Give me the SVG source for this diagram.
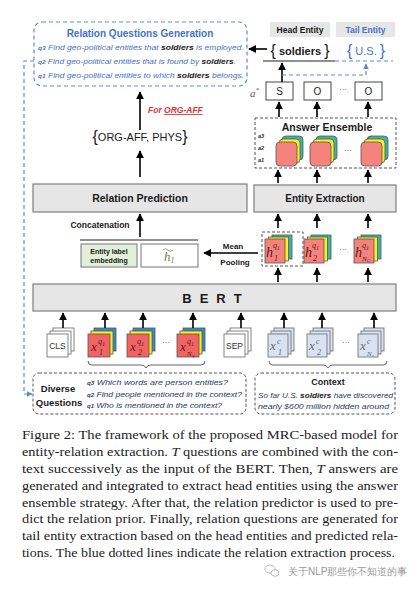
<svg xmlns="http://www.w3.org/2000/svg" width="419" height="589" viewBox="0 0 419 589">
<defs>
<style>
text{font-family:"Liberation Sans",Arial,sans-serif;}
.b{font-weight:bold;}
.lbl{font-weight:bold;fill:#1a1a1a;}
.blue{fill:#4472c4;}
.it{font-style:italic;}
.box{fill:#e6e6e6;stroke:#7f7f7f;stroke-width:1.2;}
.arr{stroke:#000;stroke-width:1.6;fill:none;marker-end:url(#ah);}
.bdash{stroke:#5b8bd6;stroke-width:1.2;fill:none;stroke-dasharray:4 3;}
.gdash{stroke:#555;stroke-width:1;fill:none;stroke-dasharray:3 2;}
.cap{font-family:"Liberation Serif","Times New Roman",serif;font-size:12.8px;fill:#222;}
.pink{fill:#f4837d;stroke:#555;stroke-width:0.8;}
.red{fill:#f26464;stroke:#555;stroke-width:0.8;}
.yel{fill:#ffef1a;stroke:#555;stroke-width:0.8;}
.teal{fill:#35b6ad;stroke:#555;stroke-width:0.8;}
.bl{fill:#2f8ccc;stroke:#555;stroke-width:0.8;}
.wh{fill:#fff;stroke:#777;stroke-width:0.9;}
.lb{fill:#d9e2f3;stroke:#777;stroke-width:0.9;}
.var{font-family:"Liberation Serif","Times New Roman",serif;font-style:italic;}
.vr{fill:#5a1a1a;}
.vg{fill:#666;}
</style>
<marker id="ah" viewBox="0 0 10 10" refX="9" refY="5" markerWidth="5" markerHeight="5" orient="auto"><path d="M0,0 L10,5 L0,10 z" fill="#000"/></marker>
<marker id="bh" viewBox="0 0 10 10" refX="9" refY="5" markerWidth="5" markerHeight="5" orient="auto"><path d="M0,0 L10,5 L0,10 z" fill="#5b8bd6"/></marker>
</defs>
<rect width="419" height="589" fill="#fff"/>

<!-- Relation Questions Generation -->
<g id="relq">
<rect x="34" y="22" width="213" height="64" rx="8" class="bdash"/>
<text x="140" y="37" text-anchor="middle" class="b blue" font-size="10">Relation Questions Generation</text>
<text x="38" y="50" font-size="7.8" class="blue it" textLength="206" lengthAdjust="spacingAndGlyphs"><tspan class="b" font-size="6">q3</tspan> Find geo-political entities that <tspan class="b" fill="#1a1a1a">soldiers</tspan> is employed.</text>
<text x="38" y="64" font-size="7.8" class="blue it" textLength="198" lengthAdjust="spacingAndGlyphs"><tspan class="b" font-size="6">q2</tspan> Find geo-political entities that is found by <tspan class="b" fill="#1a1a1a">soldiers</tspan>.</text>
<text x="38" y="78" font-size="7.8" class="blue it" textLength="206" lengthAdjust="spacingAndGlyphs"><tspan class="b" font-size="6">q1</tspan> Find geo-political entities to which <tspan class="b" fill="#1a1a1a">soldiers</tspan> belongs.</text>
</g>

<!-- relation prior -->
<g id="forlabel">
<text x="148" y="113" font-size="8.5" class="b it" fill="#e03030">For <tspan text-decoration="underline">ORG-AFF</tspan></text>
</g>
<g id="relset">
<text x="140" y="142" text-anchor="middle" fill="#1a1a1a"><tspan font-size="16">{</tspan><tspan font-size="11" dy="-1">ORG-AFF, PHYS</tspan><tspan font-size="16" dy="1">}</tspan></text>
</g>

<g id="relpred">
<rect x="33" y="184" width="214" height="28" class="box"/>
<text x="140" y="202" text-anchor="middle" class="lbl" font-size="10.5">Relation Prediction</text>
</g>
<g id="entext">
<rect x="254" y="185" width="142" height="27" class="box"/>
<text x="325" y="202" text-anchor="middle" class="lbl" font-size="10">Entity Extraction</text>
</g>

<!-- Entity labels -->
<g id="headent">
<rect x="270" y="22" width="60" height="15" fill="#e6e6e6"/>
<text x="300" y="33" text-anchor="middle" class="lbl" font-size="8.5">Head Entity</text>
</g>
<g id="tailent">
<rect x="336" y="22" width="59" height="15" fill="#e6e6e6"/>
<text x="365.5" y="33" text-anchor="middle" class="b blue" font-size="8.5">Tail Entity</text>
</g>
<g id="soldiers">
<text x="300" y="56" text-anchor="middle" fill="#1a1a1a"><tspan font-size="16">{</tspan><tspan font-size="11" class="b" dy="-1"> soldiers </tspan><tspan font-size="16" dy="1">}</tspan></text>
</g>
<g id="us">
<text x="366" y="56" text-anchor="middle" class="blue"><tspan font-size="16">{</tspan><tspan font-size="11" dy="-1"> U.S. </tspan><tspan font-size="16" dy="1">}</tspan></text>
</g>

<!-- S O O -->
<g id="astar"><text x="250" y="97" class="var" font-size="11" fill="#555">a<tspan font-size="7" dy="-5">*</tspan></text></g>
<g id="tagS"><rect x="266" y="82" width="27" height="18" fill="#fff" stroke="#444" stroke-width="1"/><text x="279.5" y="95" text-anchor="middle" font-size="10" fill="#222">S</text></g>
<g id="tagO1"><rect x="304" y="82" width="27" height="18" fill="#fff" stroke="#444" stroke-width="1"/><text x="317.5" y="95" text-anchor="middle" font-size="10" fill="#222">O</text></g>
<text x="343" y="92" text-anchor="middle" font-size="8" fill="#333">···</text>
<g id="tagO2"><rect x="355" y="82" width="27" height="18" fill="#fff" stroke="#444" stroke-width="1"/><text x="368.5" y="95" text-anchor="middle" font-size="10" fill="#222">O</text></g>

<!-- Answer Ensemble -->
<g id="ensemble">
<rect x="255" y="118" width="141" height="50" class="gdash"/>
<text x="327" y="131" text-anchor="middle" class="lbl" font-size="10.5">Answer Ensemble</text>
<text x="258" y="138" class="b it" font-size="5.5" fill="#222">a3</text>
<text x="258" y="150" class="b it" font-size="5.5" fill="#222">a2</text>
<text x="258" y="162" class="b it" font-size="5.5" fill="#222">a1</text>
<rect x="282" y="136" width="21" height="24" rx="4" class="teal"/><rect x="279" y="139" width="21" height="24" rx="4" class="yel"/><rect x="276" y="142" width="21" height="24" rx="4" class="pink"/>
<rect x="316" y="136" width="21" height="24" rx="4" class="teal"/><rect x="313" y="139" width="21" height="24" rx="4" class="yel"/><rect x="310" y="142" width="21" height="24" rx="4" class="pink"/>
<text x="348" y="153" text-anchor="middle" font-size="8" fill="#333">···</text>
<rect x="367" y="136" width="21" height="24" rx="4" class="teal"/><rect x="364" y="139" width="21" height="24" rx="4" class="yel"/><rect x="361" y="142" width="21" height="24" rx="4" class="pink"/>
</g>

<!-- concatenation -->
<g id="concatlabel"><text x="100" y="228" text-anchor="middle" class="lbl" font-size="8.5">Concatenation</text></g>
<g id="elabel">
<rect x="81" y="244" width="56" height="23" fill="#e2efd9" stroke="#777" stroke-width="1"/>
<text x="109" y="254" text-anchor="middle" class="lbl" font-size="7">Entity label</text>
<text x="109" y="263" text-anchor="middle" class="lbl" font-size="7">embedding</text>
</g>
<g id="hbar">
<rect x="141" y="244" width="57" height="23" fill="#fff" stroke="#777" stroke-width="1"/>
<text x="164" y="261" class="var" font-size="13" fill="#7a7a50">h<tspan font-size="8" dy="2">1</tspan></text>
<path d="M163,250 q2.5,-2.5 5,0 q2.5,2.5 5,0" stroke="#7a7a50" stroke-width="0.7" fill="none"/>
</g>
<g id="meanpool">
<text x="233" y="249" text-anchor="middle" class="lbl" font-size="8">Mean</text>
<text x="235" y="265" text-anchor="middle" class="lbl" font-size="8">Pooling</text>
</g>

<!-- h cubes -->
<g id="hcubes">
<rect x="262" y="232" width="41" height="34" class="gdash" stroke="#888"/>
<rect x="272" y="235" width="20" height="24" class="teal"/><rect x="268.5" y="237" width="20" height="24" class="yel"/><rect x="265" y="239" width="20" height="24" class="pink"/>
<text x="266" y="257" class="var vr" font-size="14">h</text><text x="273" y="248" class="var vr" font-size="8">q<tspan font-size="6" dy="1.5">1</tspan></text><text x="274" y="261" class="var vr" font-size="8">1</text>
<rect x="311" y="235" width="20" height="24" class="teal"/><rect x="307.5" y="237" width="20" height="24" class="yel"/><rect x="304" y="239" width="20" height="24" class="pink"/>
<text x="305" y="257" class="var vr" font-size="14">h</text><text x="312" y="248" class="var vr" font-size="8">q<tspan font-size="6" dy="1.5">1</tspan></text><text x="313" y="261" class="var vr" font-size="8">2</text>
<text x="343" y="252" text-anchor="middle" font-size="8" fill="#333">···</text>
<rect x="361" y="235" width="20" height="24" class="teal"/><rect x="357.5" y="237" width="20" height="24" class="yel"/><rect x="354" y="239" width="20" height="24" class="pink"/>
<text x="355" y="257" class="var vr" font-size="14">h</text><text x="362" y="248" class="var vr" font-size="8">q<tspan font-size="6" dy="1.5">1</tspan></text><text x="362" y="261" class="var vr" font-size="7">N<tspan font-size="5" dy="1">C</tspan></text>
</g>

<!-- BERT -->
<g id="bert">
<rect x="33" y="284" width="363" height="27" class="box"/>
<text x="216" y="303" text-anchor="middle" class="lbl" font-size="13" letter-spacing="8">BERT</text>
</g>

<!-- tokens -->
<g id="cls">
<rect x="53" y="328" width="21" height="23" class="wh"/><rect x="50" y="331" width="21" height="23" class="wh"/><rect x="47" y="334" width="21" height="23" class="wh"/>
<text x="57.5" y="349" text-anchor="middle" font-size="8.5" fill="#333">CLS</text>
</g>
<g id="xq1">
<rect x="94" y="328" width="22" height="23" class="bl"/><rect x="91" y="331" width="22" height="23" class="yel"/><rect x="88" y="334" width="22" height="23" class="red"/>
<text x="91" y="351" class="var vr" font-size="13">x</text><text x="98" y="344" class="var vr" font-size="8">q<tspan font-size="6" dy="1.5">1</tspan></text><text x="99" y="355" class="var vr" font-size="8">1</text>
</g>
<g id="xq2">
<rect x="133" y="328" width="22" height="23" class="bl"/><rect x="130" y="331" width="22" height="23" class="yel"/><rect x="127" y="334" width="22" height="23" class="red"/>
<text x="130" y="351" class="var vr" font-size="13">x</text><text x="137" y="344" class="var vr" font-size="8">q<tspan font-size="6" dy="1.5">1</tspan></text><text x="138" y="355" class="var vr" font-size="8">2</text>
</g>
<text x="166" y="345" text-anchor="middle" font-size="8" fill="#333">···</text>
<g id="xqn">
<rect x="183" y="328" width="22" height="23" class="bl"/><rect x="180" y="331" width="22" height="23" class="yel"/><rect x="177" y="334" width="22" height="23" class="red"/>
<text x="180" y="351" class="var vr" font-size="13">x</text><text x="187" y="344" class="var vr" font-size="8">q<tspan font-size="6" dy="1.5">1</tspan></text><text x="187" y="356" class="var vr" font-size="7">N<tspan font-size="5" dy="1">q</tspan></text>
</g>
<g id="sep">
<rect x="230" y="328" width="21" height="23" class="wh"/><rect x="227" y="331" width="21" height="23" class="wh"/><rect x="224" y="334" width="21" height="23" class="wh"/>
<text x="234.5" y="349" text-anchor="middle" font-size="8.5" fill="#333">SEP</text>
</g>
<g id="xc1">
<rect x="274" y="328" width="20" height="23" class="lb"/><rect x="271" y="331" width="20" height="23" class="lb"/><rect x="268" y="334" width="20" height="23" class="lb"/>
<text x="270" y="350" class="var vg" font-size="13">x</text><text x="277" y="344" class="var vg" font-size="8">c</text><text x="278" y="355" class="var vg" font-size="8">1</text>
</g>
<g id="xc2">
<rect x="313" y="328" width="20" height="23" class="lb"/><rect x="310" y="331" width="20" height="23" class="lb"/><rect x="307" y="334" width="20" height="23" class="lb"/>
<text x="309" y="350" class="var vg" font-size="13">x</text><text x="316" y="344" class="var vg" font-size="8">c</text><text x="317" y="355" class="var vg" font-size="8">2</text>
</g>
<text x="346" y="345" text-anchor="middle" font-size="8" fill="#333">···</text>
<g id="xcn">
<rect x="364" y="328" width="20" height="23" class="lb"/><rect x="361" y="331" width="20" height="23" class="lb"/><rect x="358" y="334" width="20" height="23" class="lb"/>
<text x="360" y="350" class="var vg" font-size="13">x</text><text x="367" y="344" class="var vg" font-size="8">c</text><text x="367" y="356" class="var vg" font-size="7">N<tspan font-size="5" dy="1">c</tspan></text>
</g>

<!-- Diverse Questions -->
<g id="diverse">
<rect x="33" y="373" width="213" height="41" rx="6" class="gdash"/>
<text x="58" y="392" text-anchor="middle" class="lbl" font-size="9.5">Diverse</text>
<text x="59" y="406" text-anchor="middle" class="lbl" font-size="9.5">Questions</text>
<text x="87" y="385" font-size="7.8" class="it" fill="#1f3864" textLength="141" lengthAdjust="spacingAndGlyphs"><tspan class="b" font-size="5.5">q3</tspan>  Which words are person entities?</text>
<text x="87" y="397" font-size="7.8" class="it" fill="#1f3864" textLength="155" lengthAdjust="spacingAndGlyphs"><tspan class="b" font-size="5.5">q2</tspan> Find people mentioned in the context?</text>
<text x="87" y="408" font-size="7.8" class="it" fill="#1f3864" textLength="135" lengthAdjust="spacingAndGlyphs"><tspan class="b" font-size="5.5">q1</tspan>  Who is mentioned in the context?</text>
</g>
<g id="context">
<rect x="255" y="373" width="140" height="41" rx="6" class="gdash"/>
<text x="328" y="385" text-anchor="middle" class="lbl" font-size="9">Context</text>
<text x="258" y="398" font-size="7.8" class="it" fill="#1f3864" textLength="135" lengthAdjust="spacingAndGlyphs">So far U.S. <tspan class="b" fill="#1a1a1a">soldiers</tspan> have discovered</text>
<text x="258" y="409" font-size="7.8" class="it" fill="#1f3864" textLength="131" lengthAdjust="spacingAndGlyphs">nearly $600 million hidden around</text>
</g>

<!-- connectors -->
<g id="connectors">
<path class="arr" d="M140,130 V92"/>
<path class="arr" d="M140,177 V151"/>
<path class="arr" d="M140,237 V214"/>
<path d="M80,240 H198" stroke="#222" stroke-width="1.2"/>
<path class="arr" d="M258,253 H204"/>
<path class="arr" d="M278,228 V214"/>
<path class="arr" d="M317,228 V214"/>
<path class="arr" d="M368,228 V214"/>
<path class="arr" d="M278,183 V170"/>
<path class="arr" d="M317,183 V170"/>
<path class="arr" d="M368,183 V170"/>
<path class="arr" d="M279,117 V102"/>
<path class="arr" d="M317,117 V102"/>
<path class="arr" d="M368,117 V102"/>
<path class="arr" d="M282,82 V63"/>
<path d="M263,61 H335" stroke="#222" stroke-width="1.2"/>
<path class="arr" d="M267,49 H249"/>
<path class="arr" d="M278,282 V268"/>
<path class="arr" d="M317,282 V268"/>
<path class="arr" d="M368,282 V268"/>
<path class="arr" d="M63,328 V313"/>
<path class="arr" d="M105,328 V313"/>
<path class="arr" d="M143,328 V313"/>
<path class="arr" d="M193,328 V313"/>
<path class="arr" d="M241,328 V313"/>
<path class="arr" d="M284,328 V313"/>
<path class="arr" d="M322,328 V313"/>
<path class="arr" d="M374,328 V313"/>
<path d="M88,361 q0,4 4,4 H141 q4,0 5,3 q1,-3 5,-3 H201 q4,0 4,-4" stroke="#555" stroke-width="0.9" fill="none"/>
<path d="M269,361 q0,4 4,4 H323 q4,0 5,3 q1,-3 5,-3 H383 q4,0 4,-4" stroke="#555" stroke-width="0.9" fill="none"/>
<path class="bdash" d="M282,75 H366 V64" marker-end="url(#bh)"/>
<path class="bdash" d="M335,61 H393"/>
<path class="bdash" d="M34,61 H24 V394 H32" marker-end="url(#bh)" stroke-dasharray="3 2.5"/>
</g>

<!-- caption -->
<g id="caption">
<text x="22" y="439" class="cap" textLength="376" lengthAdjust="spacingAndGlyphs">Figure 2: The framework of the proposed MRC-based model for</text>
<text x="22" y="456" class="cap" textLength="376" lengthAdjust="spacingAndGlyphs">entity-relation extraction. <tspan font-style="italic">T</tspan> questions are combined with the con-</text>
<text x="22" y="473" class="cap" textLength="376" lengthAdjust="spacingAndGlyphs">text successively as the input of the BERT. Then, <tspan font-style="italic">T</tspan> answers are</text>
<text x="22" y="490" class="cap" textLength="376" lengthAdjust="spacingAndGlyphs">generated and integrated to extract head entities using the answer</text>
<text x="22" y="507" class="cap" textLength="376" lengthAdjust="spacingAndGlyphs">ensemble strategy. After that, the relation predictor is used to pre-</text>
<text x="22" y="523" class="cap" textLength="376" lengthAdjust="spacingAndGlyphs">dict the relation prior. Finally, relation questions are generated for</text>
<text x="22" y="540" class="cap" textLength="376" lengthAdjust="spacingAndGlyphs">tail entity extraction based on the head entities and predicted rela-</text>
<text x="22" y="557" class="cap" textLength="373" lengthAdjust="spacingAndGlyphs">tions. The blue dotted lines indicate the relation extraction process.</text>
</g>

<!-- watermark -->
<g id="watermark">
<ellipse cx="270" cy="569" rx="5" ry="4" fill="none" stroke="#aaa" stroke-width="0.8"/>
<ellipse cx="275" cy="573" rx="4" ry="3.3" fill="#fff" stroke="#aaa" stroke-width="0.8"/>
<text x="288" y="575" font-family="'Noto Sans CJK SC',sans-serif" font-size="10" fill="#999">关于NLP那些你不知道的事</text>
</g>
</svg>
